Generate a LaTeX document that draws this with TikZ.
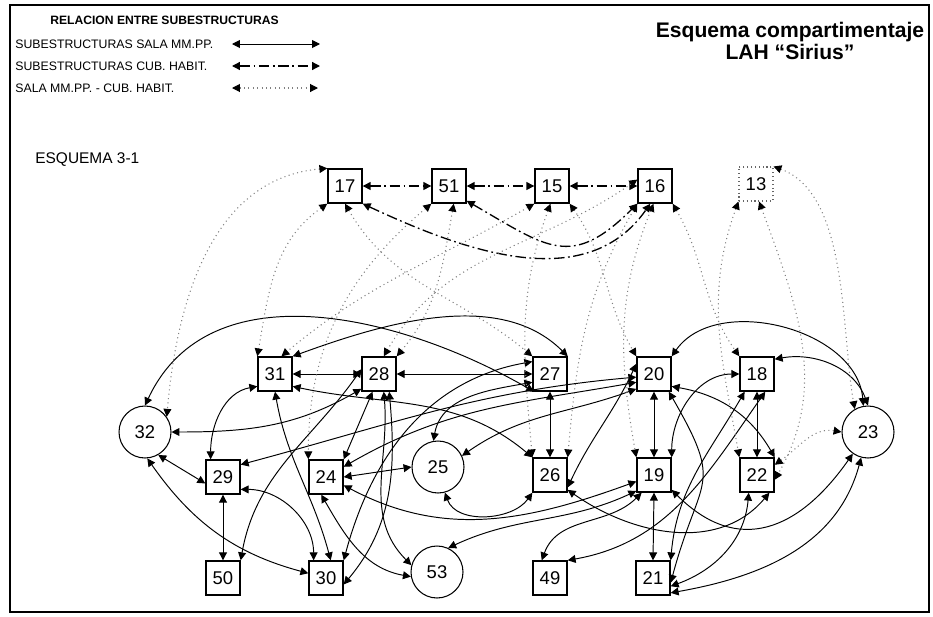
\documentclass[tikz,border=0pt]{standalone}
\usepackage{fontspec}
\setmainfont{Liberation Sans}
\usetikzlibrary{arrows.meta}

\begin{document}
\begin{tikzpicture}[x=0.02cm, y=0.02cm,
  >={Triangle[length=4.5pt,width=4.5pt,color=black]},
  caja/.style={draw, line width=0.8pt, minimum size=0.68cm, inner sep=0pt, font=\fontsize{10.5}{12}\selectfont},
  circulo/.style={draw, circle, line width=0.6pt, minimum size=1.04cm, inner sep=0pt, font=\fontsize{10.5}{12}\selectfont},
  sala/.style={<->, line width=0.55pt},
  cub/.style={<->, line width=0.75pt, dash pattern=on 6pt off 2pt on 1pt off 2pt},
  mix/.style={<->, line width=0.6pt, black!50, dash pattern=on 0.6pt off 1.9pt},
  leyenda/.style={anchor=west, inner sep=0pt, font=\fontsize{7}{8}\selectfont}]
\useasboundingbox (0,0) rectangle (933,-616);
\draw[line width=1.1pt] (10,-5) rectangle (929,-612);

% leyenda y titulo
\node[leyenda, font=\bfseries\fontsize{6.9}{8}\selectfont] (rel) at (50,-20) {RELACION ENTRE SUBESTRUCTURAS};
\node[leyenda] (ley1) at (15,-44) {SUBESTRUCTURAS SALA MM.PP.};
\node[leyenda] (ley2) at (15,-66) {SUBESTRUCTURAS CUB. HABIT.};
\node[leyenda] (ley3) at (15,-88) {SALA MM.PP. - CUB. HABIT.};
\coordinate (a1) at (232,-44); \coordinate (b1) at (320,-44);
\coordinate (a2) at (232,-66); \coordinate (b2) at (320,-66);
\coordinate (a3) at (232,-88); \coordinate (b3) at (318,-88);
\draw[sala] (a1) -- (b1);
\draw[cub] (a2) -- (b2);
\draw[mix] (a3) -- (b3);
\node[font=\bfseries\fontsize{12}{12.5}\selectfont, align=center] (titulo) at (790,-41) {Esquema compartimentaje\\LAH “Sirius”};
\node[anchor=west, inner sep=0pt, font=\fontsize{8.8}{10}\selectfont] (esq) at (35,-160) {ESQUEMA 3-1};

% subestructuras
\foreach \n/\x/\y in {17/345/186, 51/449/186, 15/552/186, 16/655/186,
  31/275/374, 28/379/374, 27/550/374, 20/654/374, 18/757/374,
  29/223/477, 24/326/477, 26/550/475, 19/654/475, 22/757/475,
  50/223/578, 30/326/578, 49/550/578, 21/653/578}
  \node[caja] (n\n) at (\x,-\y) {\n};
\node[caja, draw=black!60, line width=0.6pt, dash pattern=on 0.6pt off 1.6pt] (n13) at (756,-184) {13};
\foreach \n/\x/\y in {32/145/432, 23/868/432, 25/438/467, 53/437/572}
  \node[circulo] (n\n) at (\x,-\y) {\n};

% sala mm.pp.
\foreach \a/\b in {31.east/28.west, 28.east/27.west, 27.south/26.north, 20.south/19.north,
  18.south/22.north, 19.south/21.north, 29.south/50.north, 24.east/25.west}
  \draw[sala] (n\a) -- (n\b);
\draw[sala] (n32.north) to[out=65,in=150] (n27.228);
\draw[sala] (n31.north east) to[out=20,in=135,looseness=0.9] (n27.north east);
\draw[sala] (n29.125) to[out=90,in=190] (n31.215);
\draw[sala] (n32.east) to[out=0,in=210] (n28.220);
\draw[sala] (n32.300) -- (n29.200);
\draw[sala] (n32.275) to[out=-55,in=165] (n30.165);
\draw[sala] (n29.-35) to[out=0,in=90] (n30.125);
\draw[sala] (n31.south) to[out=-80,in=105] (n30.75);
\draw[sala] (n28.165) to[out=235,in=80] (n50.north east);
\draw[sala] (n28.250) -- (n24.north east);
\draw[sala] (n28.285) to[out=-85,in=135] (n53.165);
\draw[sala] (n24.255) to[out=-60,in=170] (n53.190);
\draw[sala] (n28.300) to[out=-85,in=50] (n30.-20);
\draw[sala] (n27.145) to[out=190,in=75] (n30.north east);
\draw[sala] (n25.100) to[out=80,in=190] (n27.205);
\draw[sala] (n24.30) to[out=30,in=190] (n20.205);
\draw[sala] (n25.25) to[out=35,in=200] (n20.220);
\draw[sala] (n29.35) to[out=15,in=185] (n20.190);
\draw[sala] (n31.-35) to[out=-12,in=140] (n26.north west);
\draw[sala] (n25.-75) to[out=-70,in=-125] (n26.south west);
\draw[sala] (n26.-35) to[out=65,in=-115] (n20.150);
\draw[sala] (n24.-25) to[out=-28,in=200] (n19.200);
\draw[sala] (n53.65) to[out=25,in=205] (n19.222);
\draw[sala] (n19.235) to[out=225,in=70] (n49.115);
\draw[sala] (n18.-65) to[out=235,in=10] (n49.north east);
\draw[sala] (n19.north east) to[out=90,in=180] (n18.west);
\draw[sala] (n20.-35) to[out=-10,in=120] (n22.north east);
\draw[sala] (n20.-50) to[out=-60,in=75,looseness=1.5] (n21.-15);
\draw[sala] (n18.235) to[out=-120,in=85] (n21.north east);
\draw[sala] (n22.245) to[out=-95,in=20] (n21.-25);
\draw[sala] (n23.255) to[out=-105,in=10] (n21.-40);
\draw[sala] (n19.-40) to[out=-45,in=235,looseness=1.3] (n23.235);
\draw[sala] (n26.-40) to[out=-35,in=-130] (n22.-55);
\draw[sala] (n20.north east) to[out=55,in=95] (n23.100);
\draw[sala] (n18.40) to[out=10,in=110] (n23.90);

% cub. habit.
\foreach \a/\b in {17.east/51.west, 51.east/15.west, 15.east/16.west}
  \draw[cub] (n\a) -- (n\b);
\draw[cub] (n17.south east) to[out=-25,in=-125] (n16.255);
\draw[cub] (n51.-40) to[out=-30,in=-135,looseness=1.4] (n16.south west);

% sala mm.pp. - cub. habit.
\draw[mix] (n17.north west) to[out=185,in=85] (n32.35);
\draw[mix] (n17.south west) to[out=215,in=80] (n31.north west);
\draw[mix] (n17.south) to[out=-60,in=140] (n27.north west);
\draw[mix] (n51.south west) to[out=220,in=90] (n24.north west);
\draw[mix] (n51.-75) to[out=-100,in=50] (n28.north east);
\draw[mix] (n15.south west) to[out=210,in=40] (n31.70);
\draw[mix] (n15.-95) to[out=-110,in=95] (n26.north west);
\draw[mix] (n15.south east) to[out=-55,in=120] (n20.north west);
\draw[mix] (n16.160) to[out=215,in=60] (n28.75);
\draw[mix] (n16.south west) to[out=240,in=85] (n26.north east);
\draw[mix] (n16.-95) to[out=-112,in=100] (n19.north west);
\draw[mix] (n16.south east) to[out=-60,in=125] (n18.north west);
\draw[mix] (n13.south west) to[out=-110,in=100] (n22.north west);
\draw[mix] (n13.-80) to[out=-70,in=60] (n22.-15);
\draw[mix] (n22.30) to[out=35,in=170] (n23.west);
\draw[mix] (n13.north east) to[out=-20,in=100,looseness=0.8] (n23.120);
\end{tikzpicture}
\end{document}
